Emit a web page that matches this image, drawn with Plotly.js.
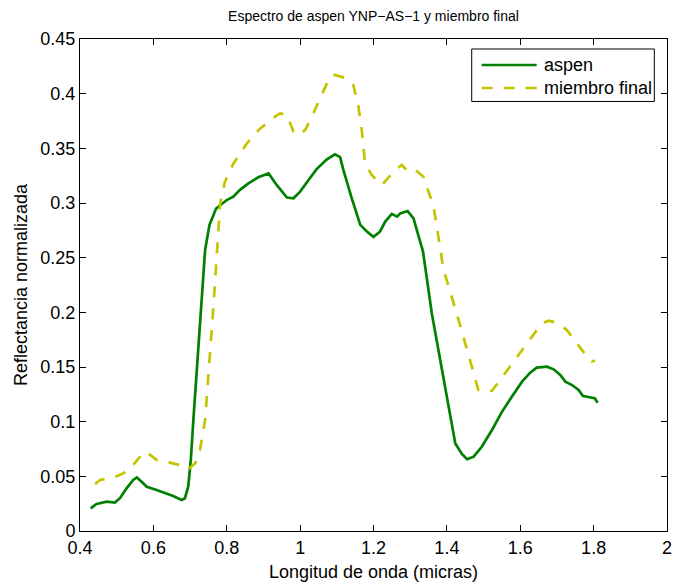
<!DOCTYPE html>
<html>
<head>
<meta charset="utf-8">
<script src="https://cdn.plot.ly/plotly-3.0.1.min.js"></script>
<style>
  html, body { margin: 0; padding: 0; background: #fff; }
  #chart { width: 673px; height: 586px; }
</style>
</head>
<body>
<div id="chart"></div>
<script>
// Aspen spectrum (solid green)
const aspenWl = [0.429, 0.445, 0.473, 0.495, 0.509, 0.527, 0.545, 0.555, 0.568, 0.582,
  0.609, 0.636, 0.654, 0.677, 0.686, 0.695, 0.702, 0.709, 0.729, 0.741,
  0.753, 0.771, 0.800, 0.818, 0.836, 0.859, 0.886, 0.905, 0.914, 0.936,
  0.964, 0.982, 1.000, 1.023, 1.045, 1.073, 1.095, 1.109, 1.118, 1.141,
  1.164, 1.182, 1.200, 1.218, 1.232, 1.250, 1.264, 1.273, 1.293, 1.309,
  1.335, 1.359, 1.391, 1.423, 1.441, 1.455, 1.473, 1.495, 1.523, 1.550,
  1.577, 1.605, 1.627, 1.645, 1.673, 1.691, 1.709, 1.723, 1.741, 1.759,
  1.771, 1.786, 1.795, 1.803, 1.811];
const aspenRef = [0.0207, 0.0247, 0.0268, 0.026, 0.030, 0.039, 0.0467, 0.049, 0.045, 0.0405,
  0.0375, 0.0345, 0.032, 0.0284, 0.030, 0.0405, 0.065, 0.1015, 0.204, 0.257,
  0.280, 0.295, 0.3027, 0.3058, 0.312, 0.318, 0.3235, 0.3256, 0.327, 0.3165,
  0.305, 0.3043, 0.3104, 0.321, 0.331, 0.340, 0.3445, 0.342, 0.330, 0.304,
  0.280, 0.274, 0.269, 0.274, 0.283, 0.290, 0.2875, 0.2905, 0.2927, 0.286,
  0.2555, 0.199, 0.141, 0.080, 0.0704, 0.0656, 0.068, 0.077, 0.0924, 0.109,
  0.1228, 0.1366, 0.1448, 0.1494, 0.1503, 0.1479, 0.1427, 0.1366, 0.1335, 0.129,
  0.1235, 0.1223, 0.1214, 0.1214, 0.1174];

// End-member spectrum (dashed yellow)
const endWl = [0.441, 0.455, 0.491, 0.518, 0.541, 0.559, 0.575, 0.586, 0.609, 0.645,
  0.682, 0.695, 0.714, 0.727, 0.741, 0.764, 0.773, 0.782, 0.795, 0.818,
  0.855, 0.891, 0.927, 0.945, 0.964, 0.982, 0.995, 1.014, 1.036, 1.064,
  1.082, 1.095, 1.127, 1.145, 1.159, 1.168, 1.177, 1.195, 1.223, 1.255,
  1.277, 1.291, 1.309, 1.336, 1.350, 1.364, 1.391, 1.427, 1.464, 1.486,
  1.505, 1.523, 1.555, 1.591, 1.627, 1.659, 1.677, 1.700, 1.727, 1.755,
  1.782, 1.795, 1.804];
const endRef = [0.043, 0.0466, 0.049, 0.0527, 0.0588, 0.0665, 0.0725, 0.071, 0.065, 0.0625,
  0.0595, 0.0564, 0.062, 0.074, 0.1015, 0.2067, 0.254, 0.2997, 0.3195, 0.336,
  0.3546, 0.368, 0.378, 0.382, 0.3805, 0.3652, 0.362, 0.3668, 0.382, 0.4034,
  0.416, 0.4171, 0.414, 0.408, 0.388, 0.3668, 0.336, 0.3256, 0.3165, 0.3287,
  0.3348, 0.330, 0.3317, 0.324, 0.310, 0.2967, 0.2387, 0.199, 0.155, 0.129,
  0.128, 0.1283, 0.1427, 0.1594, 0.176, 0.190, 0.1924, 0.1905, 0.1838, 0.1717,
  0.1594, 0.155, 0.156];

const seriesNames = ['aspen', 'miembro final'];

const xTicks = [0.4, 0.6, 0.8, 1, 1.2, 1.4, 1.6, 1.8, 2];
const xTickText = ['0.4', '0.6', '0.8', '1', '1.2', '1.4', '1.6', '1.8', '2'];
const yTicks = [0, 0.05, 0.1, 0.15, 0.2, 0.25, 0.3, 0.35, 0.4, 0.45];
const yTickText = ['0', '0.05', '0.1', '0.15', '0.2', '0.25', '0.3', '0.35', '0.4', '0.45'];

const FONT = 'Liberation Sans, Arial, Helvetica, sans-serif';
const GREEN = '#008000';
const YELLOW = '#c4c400';
const DASH = '11px,11px';
const LW = 2.7;

const traces = [
  {
    x: aspenWl, y: aspenRef, type: 'scatter', mode: 'lines', name: seriesNames[0],
    line: { color: GREEN, width: LW }
  },
  {
    x: endWl, y: endRef, type: 'scatter', mode: 'lines', name: seriesNames[1],
    line: { color: YELLOW, width: LW, dash: DASH }
  }
];

// Boxed key in the upper right corner, laid out in paper units
const key = { x0: 0.6673, x1: 0.9784, y0: 0.873, y1: 0.9797,
              lineX0: 0.6843, lineX1: 0.7780, textX: 0.7870,
              rows: [0.9472, 0.9004] };

const shapes = [
  { type: 'rect', xref: 'paper', yref: 'paper', x0: key.x0, x1: key.x1, y0: key.y0, y1: key.y1,
    line: { color: '#000', width: 1 }, fillcolor: '#fff', layer: 'above' },
  { type: 'line', xref: 'paper', yref: 'paper', x0: key.lineX0, x1: key.lineX1,
    y0: key.rows[0], y1: key.rows[0], line: { color: GREEN, width: LW }, layer: 'above' },
  { type: 'line', xref: 'paper', yref: 'paper', x0: key.lineX0, x1: key.lineX1,
    y0: key.rows[1], y1: key.rows[1], line: { color: YELLOW, width: LW, dash: DASH }, layer: 'above' }
];

const annotations = seriesNames.map((name, i) => ({
  xref: 'paper', yref: 'paper', x: key.textX, y: key.rows[i],
  xanchor: 'left', yanchor: 'middle', showarrow: false, text: name,
  font: { family: FONT, size: 18, color: '#000' }
}));

const axisCommon = {
  showgrid: false, zeroline: false, automargin: false,
  showline: true, linecolor: '#000', linewidth: 1, mirror: 'ticks',
  ticks: 'inside', ticklen: 6, tickcolor: '#000', tickwidth: 1,
  tickfont: { family: FONT, size: 18, color: '#000' },
  tickmode: 'array'
};

const layout = {
  width: 673, height: 586,
  margin: { l: 80, r: 6, t: 39, b: 55 },
  paper_bgcolor: '#fff', plot_bgcolor: '#fff',
  font: { family: FONT, color: '#000' },
  showlegend: false,
  title: {
    text: 'Espectro de aspen YNP\u2212AS\u22121 y miembro final',
    font: { family: FONT, size: 14, color: '#000' },
    x: 0.555, xanchor: 'center', y: 0.972, yanchor: 'middle'
  },
  xaxis: Object.assign({}, axisCommon, {
    range: [0.4, 2], tickvals: xTicks, ticktext: xTickText,
    title: { text: 'Longitud de onda (micras)', font: { family: FONT, size: 18, color: '#000' }, standoff: 8 }
  }),
  yaxis: Object.assign({}, axisCommon, {
    range: [0, 0.45], tickvals: yTicks, ticktext: yTickText,
    title: { text: 'Reflectancia normalizada', font: { family: FONT, size: 18, color: '#000' }, standoff: 8 }
  }),
  shapes: shapes,
  annotations: annotations
};

Plotly.newPlot('chart', traces, layout, { displayModeBar: false, staticPlot: true });
</script>
</body>
</html>
